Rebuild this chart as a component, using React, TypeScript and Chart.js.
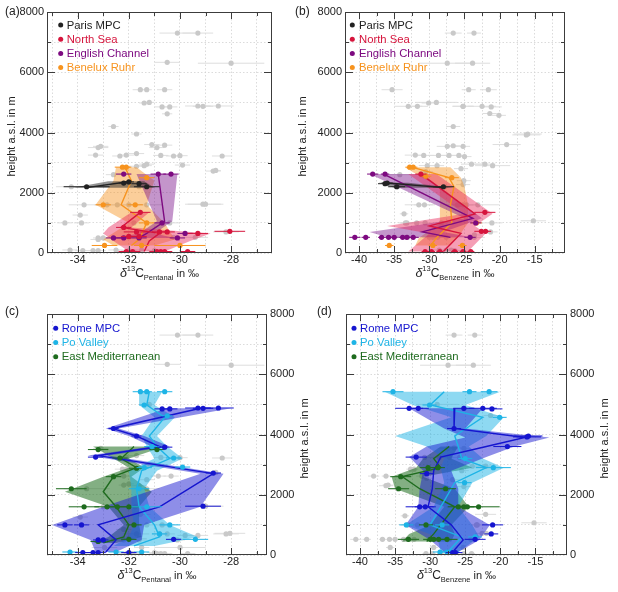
import { useEffect, useRef } from "react";
import { Chart, registerables } from "chart.js";
import type { Plugin } from "chart.js";

Chart.register(...registerables);
Chart.defaults.font.family = "'Liberation Sans', Arial, sans-serif";
Chart.defaults.font.size = 11;
Chart.defaults.color = "#222";

// one sample: [delta13C in permil, height a.s.l. in m, uncertainty]
type Sample = [number, number, number];
// one profile level: [height, mean, lower, upper]
type Level = [number, number, number, number];

const northRegions = ["Paris MPC", "North Sea", "English Channel", "Benelux Ruhr"];
const southRegions = ["Rome MPC", "Po Valley", "East Mediterranean"];

const heightLabels = [0, 2000, 4000, 6000, 8000];
const pentanalLabels = [-34, -32, -30, -28];
const benzeneLabels = [-40, -35, -30, -25, -20, -15];

// ---- pentanal samples ----
const pentanalParis: Sample[] = [
  [-33.65, 2200, 0.9], [-32.2, 2320, 0.2], [-32.0, 2360, 0.2], [-31.6, 2300, 0.3], [-31.3, 2200, 0.5],
];
const pentanalNorthSea: Sample[] = [
  [-31.55, 1350, 0.4], [-32.2, 850, 0.3], [-31.7, 700, 0.5], [-30.8, 700, 0.3], [-30.5, 700, 0.3],
  [-29.3, 650, 0.4], [-28.05, 720, 0.6], [-32.0, 550, 0.3], [-31.6, 550, 0.3], [-32.1, 50, 0.3],
  [-31.85, 50, 0.3], [-30.9, 50, 0.3], [-30.75, 50, 0.3], [-30.6, 50, 0.3], [-29.7, 50, 0.3],
];
const pentanalChannel: Sample[] = [
  [-32.2, 2620, 0.3], [-30.85, 2620, 0.3], [-30.35, 2620, 0.3], [-30.7, 1000, 0.3], [-32.6, 500, 0.3],
  [-32.2, 500, 0.3], [-31.6, 500, 0.3], [-30.1, 500, 0.3], [-29.8, 650, 0.3],
];
const pentanalBenelux: Sample[] = [
  [-32.25, 2850, 0.3], [-32.1, 2850, 0.2], [-31.3, 2500, 0.3], [-33.0, 1600, 0.3], [-31.75, 1600, 0.3],
  [-31.3, 1000, 0.3], [-31.5, 250, 0.3], [-32.95, 250, 0.5], [-30.0, 250, 1.0],
];
const pentanalRome: Sample[] = [
  [-30.7, 4850, 0.3], [-30.4, 4850, 0.3], [-29.3, 4880, 0.5], [-29.1, 4870, 0.4], [-28.5, 4880, 0.6],
  [-32.6, 4200, 0.2], [-31.7, 3950, 0.2], [-30.6, 3580, 0.3], [-33.3, 3250, 0.3], [-28.7, 2720, 0.3],
  [-29.1, 1620, 0.7], [-34.5, 1000, 0.3], [-33.85, 1000, 0.3], [-33.2, 500, 0.2], [-33.0, 500, 0.2],
  [-30.25, 520, 0.3], [-33.8, 80, 0.3], [-33.4, 80, 0.3], [-33.2, 80, 0.3], [-32.0, 80, 0.3],
];
const pentanalPo: Sample[] = [
  [-31.55, 5420, 0.3], [-31.3, 5420, 0.2], [-30.6, 5420, 0.3], [-31.4, 4980, 0.2], [-30.5, 4620, 0.2],
  [-31.1, 3600, 0.3], [-30.25, 3220, 0.3], [-29.9, 2920, 0.3], [-31.4, 2900, 0.3], [-31.6, 2200, 0.4],
  [-31.3, 1600, 0.6], [-30.4, 1000, 0.4], [-30.8, 700, 0.3], [-29.4, 520, 0.5], [-34.3, 100, 0.3],
  [-32.5, 100, 0.3], [-31.5, 100, 0.3],
];
const pentanalEastMed: Sample[] = [
  [-33.2, 3500, 0.4], [-30.9, 3500, 0.3], [-32.35, 3220, 0.3], [-31.7, 2880, 0.3], [-32.6, 2600, 0.3],
  [-34.25, 2200, 0.6], [-33.75, 1600, 0.6], [-32.85, 1600, 0.5], [-32.45, 1600, 0.5], [-32.0, 1600, 0.4],
  [-31.8, 1000, 0.3], [-32.0, 520, 0.3], [-33.2, 450, 0.3],
];
const pentanalOther: Sample[] = [
  [-30.1, 7300, 0.7], [-29.3, 7300, 0.6], [-30.5, 6330, 0.5], [-28.0, 6300, 1.3], [-31.2, 5000, 0.2],
  [-33.1, 3540, 0.3], [-32.1, 3250, 0.3], [-31.7, 3300, 0.3], [-30.75, 3240, 0.3], [-30.0, 3230, 0.3],
  [-28.35, 3220, 0.4], [-31.3, 2950, 0.3], [-28.6, 2740, 0.2], [-29.0, 1620, 0.7], [-33.9, 1260, 0.3],
  [-28.2, 700, 0.5], [-31.0, 80, 0.3],
];

// ---- pentanal profiles ----
const pentanalParisLevels: Level[] = [[2170, -33.65, -34.2, -31.0], [2380, -31.9, -32.8, -31.4]];
const pentanalNorthSeaLevels: Level[] = [
  [1350, -31.55, -31.9, -31.2], [850, -32.3, -32.8, -31.9], [650, -30.8, -33.0, -28.8],
  [400, -31.2, -32.6, -29.6], [50, -31.4, -32.0, -30.6],
];
const pentanalChannelLevels: Level[] = [
  [2620, -30.85, -31.7, -30.1], [1050, -30.6, -30.9, -30.3], [650, -31.3, -31.6, -31.0], [500, -31.6, -32.6, -30.2],
];
const pentanalBeneluxLevels: Level[] = [
  [2850, -32.15, -32.5, -31.7], [2400, -31.9, -32.6, -31.0], [1600, -32.3, -33.3, -31.3],
  [1000, -31.3, -32.0, -30.6], [450, -31.6, -33.0, -30.2], [250, -31.9, -32.6, -31.0],
];
const pentanalRomeLevels: Level[] = [
  [4870, -29.2, -30.5, -28.0], [4200, -32.65, -32.9, -32.4], [3950, -31.7, -32.0, -31.4],
  [3600, -30.8, -31.1, -30.4], [3300, -33.2, -33.6, -32.8], [2700, -28.7, -29.2, -28.3],
  [1600, -30.8, -33.0, -29.2], [1000, -33.2, -35.0, -31.4], [500, -32.5, -33.5, -31.5], [100, -32.9, -33.3, -32.5],
];
const pentanalPoLevels: Level[] = [
  [5420, -31.2, -31.6, -30.7], [4980, -31.3, -31.6, -31.0], [4570, -30.6, -31.0, -30.2],
  [3950, -31.2, -31.5, -30.9], [3600, -30.9, -31.3, -30.5], [3200, -30.4, -31.0, -29.9],
  [2800, -31.5, -32.0, -30.9], [2200, -31.7, -31.9, -31.4], [1600, -31.6, -31.9, -31.2],
  [1000, -31.0, -31.8, -30.4], [600, -30.8, -32.0, -29.3], [300, -31.8, -32.6, -31.0],
];
const pentanalEastMedLevels: Level[] = [
  [3600, -31.8, -33.4, -30.6], [3200, -32.3, -32.6, -32.0], [2900, -31.7, -32.0, -31.4],
  [2600, -32.6, -33.0, -31.9], [2100, -33.0, -34.5, -31.1], [1600, -32.5, -32.8, -31.6],
  [1000, -32.0, -32.2, -31.6], [600, -32.2, -32.8, -31.5], [400, -33.0, -33.4, -32.5],
];

// ---- benzene samples ----
const benzeneParis: Sample[] = [[-36.3, 2300, 1.0], [-36.0, 2320, 0.8], [-34.65, 2200, 1.2], [-28.0, 2200, 1.5]];
const benzeneNorthSea: Sample[] = [
  [-31.2, 2620, 0.8], [-22.1, 1350, 1.5], [-22.6, 720, 1.0], [-22.0, 720, 0.8], [-30.6, 50, 0.5],
  [-29.7, 50, 0.5], [-28.5, 50, 0.5], [-26.4, 50, 0.5], [-25.2, 50, 0.5], [-24.1, 50, 0.5],
];
const benzeneChannel: Sample[] = [
  [-38.06, 2620, 0.8], [-36.3, 2620, 0.6], [-40.6, 520, 0.8], [-39.05, 520, 0.6], [-36.8, 520, 0.5],
  [-35.8, 520, 0.5], [-35.0, 520, 0.5], [-33.8, 520, 0.6], [-33.2, 520, 0.5], [-32.3, 520, 0.8],
  [-24.2, 520, 0.8], [-23.4, 1000, 0.8],
];
const benzeneBenelux: Sample[] = [
  [-32.8, 2850, 0.6], [-32.3, 2850, 0.6], [-30.5, 2550, 0.8], [-26.8, 2500, 1.0], [-23.3, 1000, 0.8],
  [-35.7, 250, 0.6], [-29.5, 250, 0.6], [-25.3, 250, 0.6],
];
const benzeneRome: Sample[] = [
  [-33.0, 4870, 2.0], [-31.7, 4870, 1.5], [-25.2, 4870, 1.5], [-22.5, 4870, 2.0], [-21.2, 4850, 1.5],
  [-26.6, 4200, 1.0], [-16.0, 3950, 2.0], [-16.2, 3920, 2.0], [-19.0, 3600, 2.0], [-32.0, 3250, 1.5],
  [-30.5, 2700, 1.0], [-31.5, 1600, 2.0], [-30.7, 1600, 1.5], [-21.1, 1000, 1.5], [-21.3, 700, 1.0],
  [-23.6, 520, 1.5], [-26.8, 80, 1.0], [-26.4, 80, 1.0],
];
const benzenePo: Sample[] = [
  [-35.3, 5420, 1.5], [-24.4, 5420, 1.0], [-21.6, 5420, 1.2], [-30.1, 4980, 1.0], [-20.1, 4570, 1.0],
  [-25.0, 3200, 1.0], [-21.0, 2900, 2.5], [-25.1, 2400, 1.0], [-33.4, 1000, 1.0], [-28.3, 1000, 1.0],
  [-23.6, 600, 1.0], [-28.6, 100, 1.0], [-27.6, 100, 1.0], [-26.9, 100, 1.0],
];
const benzeneEastMed: Sample[] = [
  [-30.3, 2900, 1.2], [-28.9, 2900, 1.0], [-34.2, 2600, 1.5], [-34.5, 2200, 1.5], [-27.8, 2200, 1.5],
  [-26.0, 1600, 1.5], [-25.2, 1600, 1.5], [-24.7, 1600, 1.5], [-23.1, 1600, 3.0], [-30.6, 1000, 1.0],
  [-33.1, 520, 1.5], [-30.0, 520, 1.0], [-29.5, 520, 1.0], [-28.8, 520, 1.0], [-27.6, 520, 1.5],
];
const benzeneOther: Sample[] = [
  [-26.6, 7300, 1.2], [-23.65, 7300, 1.0], [-27.45, 6300, 4.0], [-23.85, 6300, 2.5], [-29.0, 5000, 3.0],
  [-25.2, 4870, 1.5], [-21.4, 4630, 1.0], [-27.45, 3540, 1.5], [-26.6, 3560, 1.0], [-25.2, 3540, 1.0],
  [-30.8, 3240, 1.5], [-28.7, 3240, 1.5], [-27.2, 3240, 1.5], [-25.8, 3240, 1.0], [-24.0, 2950, 1.5],
  [-22.1, 2950, 1.5], [-25.5, 2800, 1.0], [-25.2, 2270, 1.0], [-25.8, 1600, 2.0], [-33.6, 1300, 0.6],
  [-33.2, 1000, 1.0], [-31.8, 1000, 1.0], [-15.2, 1070, 1.8],
];

// ---- benzene profiles ----
const benzeneParisLevels: Level[] = [[2330, -36.3, -37.2, -33.0], [2170, -28.0, -35.0, -26.5]];
const benzeneNorthSeaLevels: Level[] = [
  [2620, -31.2, -33.0, -29.0], [1300, -23.5, -25.0, -21.0], [900, -30.0, -36.0, -23.5],
  [650, -25.5, -30.0, -22.0], [50, -28.0, -33.0, -24.5],
];
const benzeneChannelLevels: Level[] = [
  [2620, -36.5, -38.5, -31.0], [1150, -23.8, -25.0, -22.5], [700, -31.0, -38.5, -28.0], [520, -27.0, -36.0, -24.0],
];
const benzeneBeneluxLevels: Level[] = [
  [2850, -32.5, -33.5, -27.0], [2500, -27.2, -31.0, -25.5], [2200, -26.5, -28.5, -25.0],
  [1600, -27.0, -28.5, -24.5], [1000, -26.8, -28.5, -24.5], [500, -29.0, -31.5, -26.0], [250, -29.8, -32.0, -27.0],
];
const benzeneRomeLevels: Level[] = [
  [4870, -26.5, -33.0, -22.5], [4200, -26.6, -28.0, -25.0], [3900, -16.5, -25.0, -13.0],
  [3600, -22.0, -30.5, -18.0], [3250, -28.5, -33.0, -22.0], [2800, -29.5, -31.0, -27.0],
  [2200, -29.7, -31.5, -26.0], [1600, -30.3, -31.7, -26.0], [1000, -27.0, -33.5, -21.5],
  [500, -25.3, -30.0, -23.0], [100, -26.8, -28.0, -26.0],
];
const benzenePoLevels: Level[] = [
  [5420, -28.0, -36.5, -20.0], [4980, -30.0, -32.5, -25.0], [4570, -22.5, -27.0, -19.5],
  [3950, -26.5, -35.0, -22.0], [3600, -26.0, -30.5, -24.5], [3200, -25.5, -28.0, -22.5],
  [2900, -22.0, -28.5, -19.5], [2400, -26.5, -28.0, -24.0], [1600, -28.5, -29.5, -26.0],
  [1000, -30.0, -33.5, -24.0], [600, -25.5, -29.0, -23.0], [100, -27.5, -28.5, -26.0],
];
const benzeneEastMedLevels: Level[] = [
  [3600, -27.3, -28.5, -26.0], [3200, -29.5, -31.0, -27.0], [2900, -28.5, -32.0, -24.0],
  [2600, -34.0, -35.5, -31.0], [2200, -31.5, -35.0, -26.5], [1600, -26.5, -28.0, -24.5],
  [1000, -28.5, -30.0, -27.0], [700, -29.5, -33.0, -26.5], [450, -30.5, -34.0, -27.0],
];

const regionColors: Record<string, string> = {
  "Paris MPC": "#222222",
  "North Sea": "#d6143c",
  "English Channel": "#7d0a80",
  "Benelux Ruhr": "#f7931e",
  "Rome MPC": "#1515cf",
  "Po Valley": "#1eb4e6",
  "East Mediterranean": "#1e6b1e",
};
const bandColors: Record<string, string> = {
  "Paris MPC": "rgba(40,40,40,0.5)",
  "North Sea": "rgba(232,40,90,0.45)",
  "English Channel": "rgba(125,20,140,0.45)",
  "Benelux Ruhr": "rgba(247,147,30,0.45)",
  "Rome MPC": "rgba(30,30,210,0.5)",
  "Po Valley": "rgba(30,180,230,0.5)",
  "East Mediterranean": "rgba(30,110,30,0.55)",
};

type Region = { name: string; samples: Sample[]; levels: Level[] };
type Box = { left: number; top: number; width: number; height: number };
type Area = { left: number; top: number; right: number; bottom: number };

interface PanelProps {
  tag: string;
  compound: string;
  regions: Region[];
  others: Sample[];
  xMin: number;
  xMax: number;
  xStep: number;
  xLabels: number[];
  yAxis: "left" | "right";
  box: Box;
  area: Area;
  tagX: number;
  tagY: number;
  titleX: number;
  legendDot: number;
  legendText: number;
  legendTop: number;
}

const FONT = "'Liberation Sans', Arial, sans-serif";

const errorBars: Plugin<"scatter"> = {
  id: "errorBars",
  beforeDatasetDraw(chart, args) {
    const ds = chart.data.datasets[args.index] as any;
    if (!ds.errors) return;
    const xs = chart.scales.x;
    const a = chart.chartArea;
    const ctx = chart.ctx;
    ctx.save();
    ctx.beginPath();
    ctx.rect(a.left, a.top, a.right - a.left, a.bottom - a.top);
    ctx.clip();
    ctx.strokeStyle = ds.errorColor;
    ctx.lineWidth = 1;
    ctx.beginPath();
    args.meta.data.forEach((el: any, i: number) => {
      const p = ds.data[i];
      const e = ds.errors[i];
      ctx.moveTo(xs.getPixelForValue(p.x - e), el.y);
      ctx.lineTo(xs.getPixelForValue(p.x + e), el.y);
    });
    ctx.stroke();
    ctx.restore();
  },
};

function drawXTitle(ctx: CanvasRenderingContext2D, cx: number, y: number, sub: string) {
  const parts = [
    { t: "δ", f: `italic 12.5px ${FONT}`, dy: 0 },
    { t: "13", f: `7.5px ${FONT}`, dy: -6 },
    { t: "C", f: `12px ${FONT}`, dy: 0 },
    { t: sub, f: `7.5px ${FONT}`, dy: 3 },
    { t: " in ‰", f: `11px ${FONT}`, dy: 0 },
  ];
  let w = 0;
  parts.forEach((p) => {
    ctx.font = p.f;
    w += ctx.measureText(p.t).width;
  });
  let x = cx - w / 2;
  ctx.textAlign = "left";
  ctx.textBaseline = "alphabetic";
  parts.forEach((p) => {
    ctx.font = p.f;
    ctx.fillText(p.t, x, y + p.dy);
    x += ctx.measureText(p.t).width;
  });
}

function Panel(props: PanelProps) {
  const chartRef = useRef<HTMLCanvasElement | null>(null);

  useEffect(() => {
    if (!chartRef.current) return;
    const p = props;
    const { box, area } = p;
    const onRight = p.yAxis === "right";

    const datasets: any[] = [
      {
        data: p.others.map(([x, y]) => ({ x, y })),
        errors: p.others.map((s) => s[2]),
        errorColor: "#dedede",
        pointRadius: 2.6,
        pointBackgroundColor: "#c9c9c9",
        pointBorderWidth: 0,
        order: 5,
      },
    ];
    p.regions.forEach((r) => {
      const c = regionColors[r.name];
      datasets.push({
        data: [
          ...r.levels.map((l) => ({ x: l[3], y: l[0] })),
          ...[...r.levels].reverse().map((l) => ({ x: l[2], y: l[0] })),
        ],
        showLine: true,
        fill: "shape",
        backgroundColor: bandColors[r.name],
        borderColor: "rgba(0,0,0,0)",
        borderWidth: 0,
        pointRadius: 0,
        order: 4,
      });
      datasets.push({
        data: r.levels.map((l) => ({ x: l[1], y: l[0] })),
        showLine: true,
        borderColor: c,
        borderWidth: 1.4,
        pointRadius: 0,
        order: 3,
      });
      datasets.push({
        data: r.samples.map(([x, y]) => ({ x, y })),
        errors: r.samples.map((s) => s[2]),
        errorColor: c,
        pointRadius: 2.6,
        pointBackgroundColor: c,
        pointBorderWidth: 0,
        order: 2,
      });
    });

    const decor: Plugin<"scatter"> = {
      id: "decor",
      afterDraw(chart) {
        const ctx = chart.ctx;
        const a = chart.chartArea;
        const xs = chart.scales.x;
        const ys = chart.scales.y;
        ctx.save();
        ctx.strokeStyle = "#3c3c3c";
        ctx.lineWidth = 1;
        ctx.beginPath();
        xs.ticks.forEach((t) => {
          const px = Math.round(xs.getPixelForValue(t.value)) + 0.5;
          if (px <= a.left + 1 || px >= a.right - 1) return;
          const len = p.xLabels.includes(t.value) ? 7 : 4;
          ctx.moveTo(px, a.bottom);
          ctx.lineTo(px, a.bottom - len);
          ctx.moveTo(px, a.top);
          ctx.lineTo(px, a.top + len);
        });
        ys.ticks.forEach((t) => {
          const py = Math.round(ys.getPixelForValue(t.value)) + 0.5;
          if (py <= a.top + 1 || py >= a.bottom - 1) return;
          const len = heightLabels.includes(t.value) ? 8 : 4;
          ctx.moveTo(a.left, py);
          ctx.lineTo(a.left + len, py);
          ctx.moveTo(a.right, py);
          ctx.lineTo(a.right - len, py);
        });
        ctx.stroke();
        ctx.strokeRect(a.left + 0.5, a.top + 0.5, a.right - a.left - 1, a.bottom - a.top - 1);

        // legend inside the plot
        p.regions.forEach((r, i) => {
          const y = a.top + p.legendTop + i * 14.2;
          const c = regionColors[r.name];
          ctx.fillStyle = c;
          ctx.beginPath();
          ctx.arc(a.left + p.legendDot, y, 2.5, 0, Math.PI * 2);
          ctx.fill();
          ctx.font = `11.3px ${FONT}`;
          ctx.textAlign = "left";
          ctx.textBaseline = "middle";
          ctx.fillText(r.name, a.left + p.legendText, y + 0.5);
        });

        ctx.fillStyle = "#222";
        ctx.font = `12px ${FONT}`;
        ctx.textAlign = "left";
        ctx.textBaseline = "middle";
        ctx.fillText(p.tag, p.tagX, p.tagY);

        drawXTitle(ctx, (a.left + a.right) / 2, a.bottom + 23.7, p.compound);

        ctx.save();
        ctx.translate(p.titleX, (a.top + a.bottom) / 2 + 4);
        ctx.rotate(-Math.PI / 2);
        ctx.font = `11px ${FONT}`;
        ctx.textAlign = "center";
        ctx.textBaseline = "middle";
        ctx.fillText("height a.s.l. in m", 0, 0);
        ctx.restore();
        ctx.restore();
      },
    };

    const grid = { color: "#d2d2d2", lineWidth: 0.8, drawTicks: false };
    const border = { display: false, dash: [1.5, 2] };

    const chart = new Chart(chartRef.current, {
      type: "scatter",
      data: { datasets },
      options: {
        animation: false,
        responsive: false,
        events: [],
        layout: {
          padding: {
            left: onRight ? area.left : 0,
            right: onRight ? 0 : box.width - area.right,
            top: area.top,
            bottom: 0,
          },
        },
        plugins: { legend: { display: false }, tooltip: { enabled: false } },
        scales: {
          x: {
            type: "linear",
            position: "bottom",
            min: p.xMin,
            max: p.xMax,
            afterFit: (s: any) => {
              s.height = box.height - area.bottom;
            },
            grid,
            border,
            ticks: {
              stepSize: p.xStep,
              includeBounds: false,
              autoSkip: false,
              maxRotation: 0,
              padding: 0,
              callback: (v: any) => (p.xLabels.includes(v) ? String(v) : ""),
            },
          },
          y: {
            type: "linear",
            position: p.yAxis,
            min: 0,
            max: 8000,
            afterFit: (s: any) => {
              s.width = onRight ? box.width - area.right : area.left;
            },
            grid,
            border,
            ticks: {
              stepSize: 1000,
              autoSkip: false,
              padding: 3,
              callback: (v: any) => (heightLabels.includes(v) ? String(v) : ""),
            },
          },
        },
      } as any,
      plugins: [errorBars, decor],
    });

    return () => {
      chart.destroy();
    };
  }, []);

  const { box } = props;
  return (
    <canvas
      ref={chartRef}
      width={box.width}
      height={box.height}
      style={{ position: "absolute", left: box.left, top: box.top, width: box.width, height: box.height }}
    />
  );
}

const pentanalNorth: Region[] = [
  { name: northRegions[0], samples: pentanalParis, levels: pentanalParisLevels },
  { name: northRegions[1], samples: pentanalNorthSea, levels: pentanalNorthSeaLevels },
  { name: northRegions[2], samples: pentanalChannel, levels: pentanalChannelLevels },
  { name: northRegions[3], samples: pentanalBenelux, levels: pentanalBeneluxLevels },
];
const pentanalSouth: Region[] = [
  { name: southRegions[0], samples: pentanalRome, levels: pentanalRomeLevels },
  { name: southRegions[1], samples: pentanalPo, levels: pentanalPoLevels },
  { name: southRegions[2], samples: pentanalEastMed, levels: pentanalEastMedLevels },
];
const benzeneNorth: Region[] = [
  { name: northRegions[0], samples: benzeneParis, levels: benzeneParisLevels },
  { name: northRegions[1], samples: benzeneNorthSea, levels: benzeneNorthSeaLevels },
  { name: northRegions[2], samples: benzeneChannel, levels: benzeneChannelLevels },
  { name: northRegions[3], samples: benzeneBenelux, levels: benzeneBeneluxLevels },
];
const benzeneSouth: Region[] = [
  { name: southRegions[0], samples: benzeneRome, levels: benzeneRomeLevels },
  { name: southRegions[1], samples: benzenePo, levels: benzenePoLevels },
  { name: southRegions[2], samples: benzeneEastMed, levels: benzeneEastMedLevels },
];

const samplesOf = (regions: Region[]) => regions.flatMap((r) => r.samples);

export default function App() {
  return (
    <div style={{ position: "absolute", left: 0, top: 0, width: 618, height: 592, background: "#fff" }}>
      <Panel
        tag="(a)"
        compound="Pentanal"
        regions={pentanalNorth}
        others={[...samplesOf(pentanalSouth), ...pentanalOther]}
        xMin={-35.2}
        xMax={-26.4}
        xStep={1}
        xLabels={pentanalLabels}
        yAxis="left"
        box={{ left: 0, top: 0, width: 300, height: 292 }}
        area={{ left: 47, top: 12, right: 272, bottom: 253 }}
        tagX={5}
        tagY={12}
        titleX={12}
        legendDot={13.7}
        legendText={19.7}
        legendTop={13}
      />
      <Panel
        tag="(b)"
        compound="Benzene"
        regions={benzeneNorth}
        others={[...samplesOf(benzeneSouth), ...benzeneOther]}
        xMin={-42}
        xMax={-10.7}
        xStep={2.5}
        xLabels={benzeneLabels}
        yAxis="left"
        box={{ left: 290, top: 0, width: 328, height: 292 }}
        area={{ left: 55, top: 12, right: 275, bottom: 253 }}
        tagX={5}
        tagY={12}
        titleX={13}
        legendDot={7.3}
        legendText={14}
        legendTop={13}
      />
      <Panel
        tag="(c)"
        compound="Pentanal"
        regions={pentanalSouth}
        others={[...samplesOf(pentanalNorth), ...pentanalOther]}
        xMin={-35.2}
        xMax={-26.6}
        xStep={1}
        xLabels={pentanalLabels}
        yAxis="right"
        box={{ left: 0, top: 296, width: 318, height: 296 }}
        area={{ left: 47, top: 18, right: 267, bottom: 259 }}
        tagX={5}
        tagY={16}
        titleX={305}
        legendDot={8.7}
        legendText={14.7}
        legendTop={14.3}
      />
      <Panel
        tag="(d)"
        compound="Benzene"
        regions={benzeneSouth}
        others={[...samplesOf(benzeneNorth), ...benzeneOther]}
        xMin={-42}
        xMax={-10.5}
        xStep={2.5}
        xLabels={benzeneLabels}
        yAxis="right"
        box={{ left: 300, top: 296, width: 318, height: 296 }}
        area={{ left: 46, top: 18, right: 267, bottom: 259 }}
        tagX={17}
        tagY={16}
        titleX={305}
        legendDot={8}
        legendText={14}
        legendTop={14.3}
      />
    </div>
  );
}
